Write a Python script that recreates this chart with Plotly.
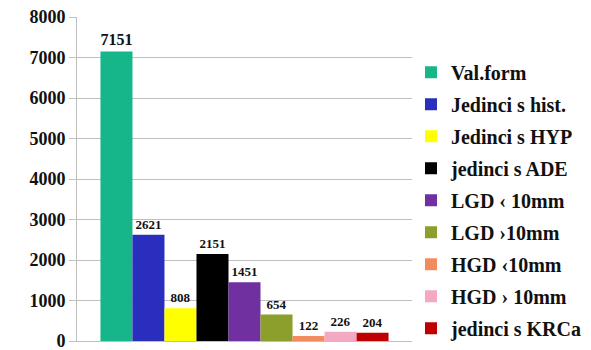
import plotly.graph_objects as go

# Counts per examination outcome group
categories = ["Val.form", "Jedinci s hist.", "Jedinci s HYP", "jedinci s ADE",
              "LGD \u2039 10mm", "LGD \u203a10mm", "HGD \u203910mm", "HGD \u203a 10mm",
              "jedinci s KRCa"]
values = [7151, 2621, 808, 2151, 1451, 654, 122, 226, 204]
colors = ["#17B68A", "#2A2EBE", "#FFFF00", "#000000", "#7030A0",
          "#8C9E2C", "#F28C5E", "#F3A9C2", "#C00000"]
label_sizes = [19, 13, 13, 13, 13, 13, 13, 13, 13]

serif = "Liberation Serif"

fig = go.Figure()
for i, (name, v, c, fs) in enumerate(zip(categories, values, colors, label_sizes)):
    fig.add_trace(go.Bar(
        x=[""], y=[v], name=name, marker=dict(color=c, line=dict(width=0)),
        text=[str(v)], textposition="outside", cliponaxis=False,
        textfont=dict(family=serif, size=fs, color="#111111", weight="bold"),
        legendgroup=f"g{i}",
    ))

fig.update_layout(
    width=591, height=350,
    margin=dict(l=77, r=179, t=17, b=9, autoexpand=False),
    paper_bgcolor="white", plot_bgcolor="white",
    barmode="group", bargap=0.14, bargroupgap=0,
    showlegend=True,
    legend=dict(
        x=0.997, y=0.89, xanchor="left", yanchor="top",
        font=dict(family=serif, size=20, color="#111111", weight="bold"),
        traceorder="grouped", tracegroupgap=3,
        itemwidth=30, bgcolor="rgba(0,0,0,0)",
    ),
    yaxis=dict(
        range=[0, 8000], dtick=1000, showgrid=True, gridcolor="#BFBFBF", gridwidth=1,
        ticks="outside", ticklen=7, tickcolor="#BFBFBF",
        showline=True, linecolor="#BFBFBF",
        tickfont=dict(family=serif, size=18, color="#111111", weight="bold"),
        ticklabeloverflow="allow",
        zeroline=False,
    ),
    xaxis=dict(showticklabels=False, showline=True, linecolor="#BFBFBF", ticks=""),
)

fig.write_html("out.html")
